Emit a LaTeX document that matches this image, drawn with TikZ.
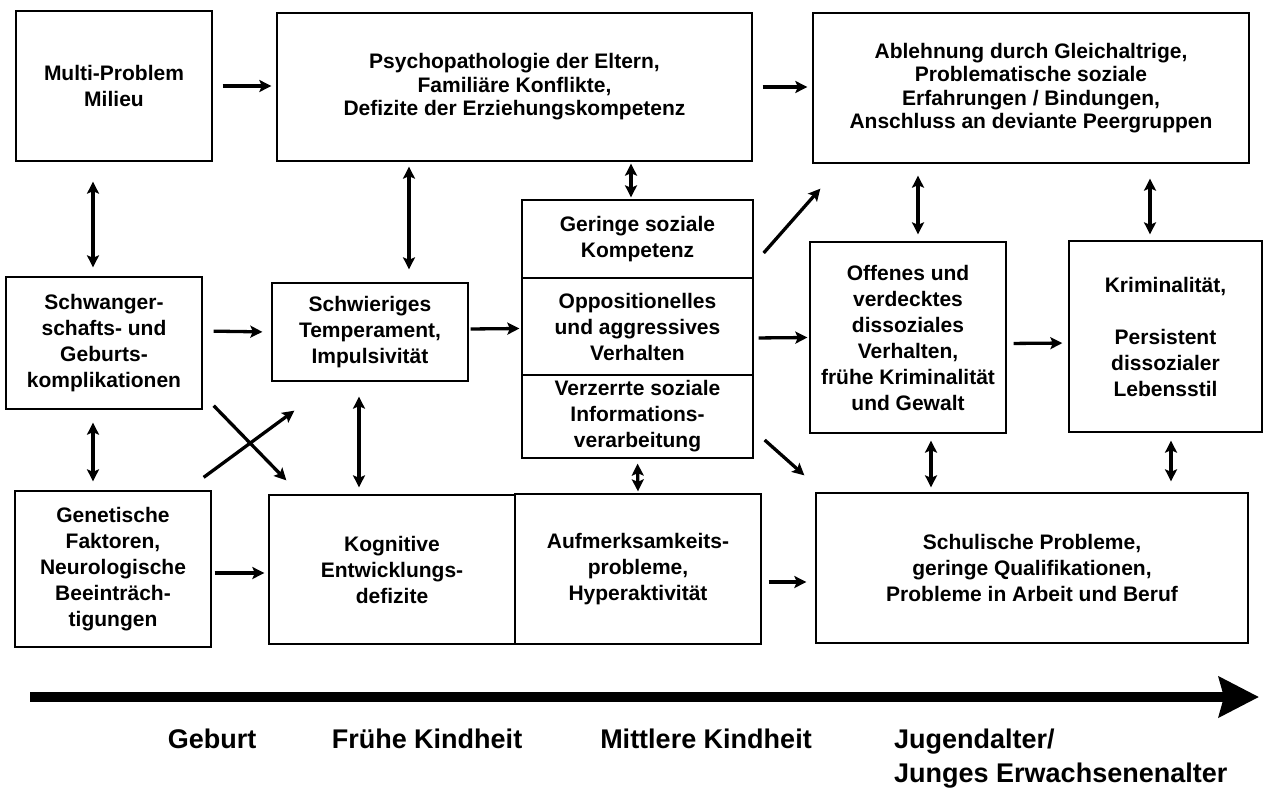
\documentclass[tikz,border=0pt]{standalone}
\usepackage{fontspec}
\setmainfont{Liberation Sans}
\usepackage{tikz}
\usetikzlibrary{arrows.meta}

\begin{document}
\begin{tikzpicture}[
    x=1pt, y=-1pt,
    box/.style={draw, line width=1.3pt, align=center, inner sep=0pt, font=\bfseries\fontsize{21}{26}\selectfont},
    topbox/.style={box, font=\bfseries\fontsize{21}{23.5}\selectfont},
    arr/.style={-{Stealth[length=12pt, width=12pt, inset=2.5pt]}, line width=3.3pt},
    dbl/.style={{Stealth[length=12pt, width=12pt, inset=2.5pt]}-{Stealth[length=12pt, width=12pt, inset=2.5pt]}, line width=3.3pt},
    lbl/.style={inner sep=0pt, font=\bfseries\fontsize{27}{34}\selectfont}
]
\useasboundingbox (0,0) rectangle (1263,790);

% Milieu
\node[box, minimum width=196pt, minimum height=150pt] (milieu) at (114,86) {Multi-Problem\\Milieu};

% Eltern
\node[topbox, minimum width=475pt, minimum height=148pt] (eltern) at (514.5,87) {Psychopathologie der Eltern,\\Familiäre Konflikte,\\Defizite der Erziehungskompetenz};
\draw[arr, shorten <=10pt, shorten >=5pt] (milieu.east) -- (milieu.east -| eltern.west);

% Peers
\node[topbox, minimum width=436pt, minimum height=150pt] (peers) at (1031,88) {Ablehnung durch Gleichaltrige,\\Problematische soziale\\Erfahrungen / Bindungen,\\Anschluss an deviante Peergruppen};
\draw[arr, shorten <=10pt, shorten >=5pt] (eltern.east) -- (eltern.east -| peers.west);

% Schwangerschaft
\node[box, minimum width=196pt, minimum height=132pt] (schwanger) at (104,343) {Schwanger-\\schafts- und\\Geburts-\\komplikationen};
\draw[dbl, shorten <=20pt, shorten >=9pt] ([xshift=-21pt]milieu.south) -- ([xshift=-11pt]schwanger.north);

% Temperament
\node[box, minimum width=196pt, minimum height=98pt] (temperament) at (370,332) {Schwieriges\\Temperament,\\Impulsivität};
\draw[dbl, shorten <=5pt, shorten >=13pt] ([xshift=-105.5pt]eltern.south) -- ([xshift=39pt]temperament.north);
\draw[arr, shorten <=11pt, shorten >=9pt] ([yshift=12pt]schwanger.east) -- (temperament.west);

% Kompetenz / Verhalten / Informationsverarbeitung
\node[box, minimum width=231pt, minimum height=78pt] (kompetenz) at (637.5,239) {Geringe soziale\\Kompetenz};
\node[box, minimum width=231pt, minimum height=97pt] (opposition) at (637.5,326.5) {Oppositionelles\\und aggressives\\Verhalten};
\node[box, minimum width=231pt, minimum height=83pt] (verzerrt) at (637.5,416.5) {Verzerrte soziale\\Informations-\\verarbeitung};
\draw[dbl, shorten <=2pt, shorten >=2pt] ([xshift=116.5pt]eltern.south) -- ([xshift=-6.5pt]kompetenz.north);
\draw[arr, shorten <=2pt, shorten >=2pt] ([yshift=3pt]temperament.east) -- ([yshift=-2pt]opposition.west);
\draw[arr] ([xshift=10pt,yshift=-14pt]kompetenz.east) -- ([xshift=8pt,yshift=-25pt]peers.south west);

% Offenes Verhalten
\node[box, minimum width=196pt, minimum height=191pt] (offenes) at (908,337.5) {Offenes und\\verdecktes\\dissoziales\\Verhalten,\\frühe Kriminalität\\und Gewalt};
\draw[arr, shorten <=5pt, shorten >=2pt] ([yshift=-11.5pt]opposition.east) -- (offenes.west);
\draw[dbl, shorten <=12pt, shorten >=7pt] ([xshift=-113pt]peers.south) -- ([xshift=10pt]offenes.north);

% Kriminalitaet
\node[box, minimum width=193pt, minimum height=191pt] (krim) at (1165.5,336.5) {Kriminalität,\\[26pt]Persistent\\dissozialer\\Lebensstil};
\draw[arr, shorten <=7pt, shorten >=6pt] ([yshift=-6pt]offenes.east) -- ([yshift=-6.5pt]krim.west);
\draw[dbl, shorten <=15pt, shorten >=6pt] ([xshift=119pt]peers.south) -- ([xshift=-15.5pt]krim.north);

% Genetik
\node[box, minimum width=196pt, minimum height=156pt] (genetik) at (113,569) {Genetische\\Faktoren,\\Neurologische\\Beeinträch-\\tigungen};
\draw[dbl, shorten <=13pt, shorten >=9pt] ([xshift=-11pt]schwanger.south) -- ([xshift=-20pt]genetik.north);

% Kognitive Defizite
\node[box, minimum width=246pt, minimum height=149pt] (kognitiv) at (392,569.5) {Kognitive\\Entwicklungs-\\defizite};
\draw[arr, shorten <=3pt, shorten >=4pt] ([yshift=-4pt]genetik.east) -- ([yshift=-3.5pt]kognitiv.west);
\draw[dbl, shorten <=15pt, shorten >=7pt] ([xshift=-11pt]temperament.south) -- ([xshift=-33pt]kognitiv.north);
\draw[arr] ([xshift=11pt,yshift=4pt]schwanger.south east) -- ([xshift=18pt,yshift=14pt]kognitiv.north west);
\draw[arr] ([xshift=-8pt,yshift=13pt]genetik.north east) -- ([xshift=23pt,yshift=-29pt]temperament.south west);

% Aufmerksamkeit
\node[box, minimum width=246pt, minimum height=150pt] (aufmerk) at (638,569) {Aufmerksamkeits-\\probleme,\\Hyperaktivität};
\draw[dbl, shorten <=5pt, shorten >=2pt] (verzerrt.south) -- (aufmerk.north);

% Schule und Beruf
\node[box, minimum width=432pt, minimum height=150pt] (schule) at (1032,568) {Schulische Probleme,\\geringe Qualifikationen,\\Probleme in Arbeit und Beruf};
\draw[arr, shorten <=7pt, shorten >=9pt] ([yshift=-13pt]aufmerk.east) -- ([yshift=-14pt]schule.west);
\draw[arr] ([xshift=11pt,yshift=-23.5pt]verzerrt.east) -- ([xshift=-11pt,yshift=17pt]schule.north west);
\draw[dbl, shorten <=7pt, shorten >=5pt] ([xshift=23pt]offenes.south) -- ([xshift=-101pt]schule.north);
\draw[dbl, shorten <=8pt, shorten >=11pt] ([xshift=5.5pt]krim.south) -- ([xshift=139pt]schule.north);

% Zeitachse
\coordinate (tl-start) at (30,697);
\coordinate (tl-end) at (1259,697);
\draw[line width=10pt, -{Stealth[length=40pt, width=40pt, inset=5pt]}] (tl-start) -- (tl-end);

\node[lbl, anchor=base] (geburt) at (212,748) {Geburt};
\node[lbl, anchor=base] (fruehe) at (427,748) {Frühe Kindheit};
\node[lbl, anchor=base] (mittlere) at (706,748) {Mittlere Kindheit};
\node[lbl, anchor=base west] (jugend) at (894,748) {Jugendalter/};
\node[lbl, anchor=base west] (erwachsen) at (894,782) {Junges Erwachsenenalter};

\end{tikzpicture}
\end{document}
